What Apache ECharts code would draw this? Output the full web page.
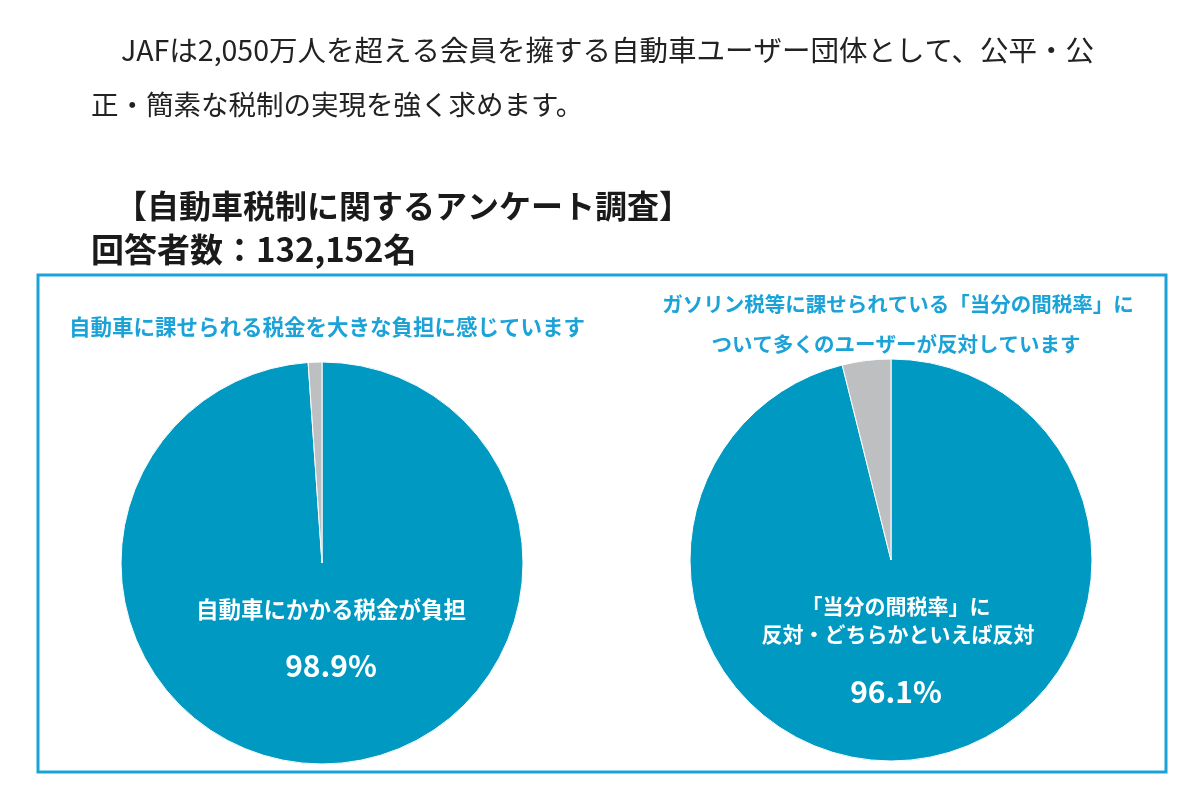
<!DOCTYPE html>
<html>
<head>
<meta charset="utf-8">
<script src="https://cdn.jsdelivr.net/npm/echarts@6/dist/echarts.min.js"></script>
<style>
html, body { margin: 0; padding: 0; background: #fff; }
#chart { width: 1200px; height: 800px; }
</style>
</head>
<body>
<div id="chart"></div>
<script>
const leftNames = ['自動車にかかる税金が負担', 'その他']
const leftValues = [98.9, 1.1]
const rightNames = ['「当分の間税率」に反対・どちらかといえば反対', 'その他']
const rightValues = [96.1, 3.9]
const sliceColors = ['#0099c2', '#bdbfc1']

const font = '"Noto Sans CJK JP", "Noto Sans", sans-serif'
const blue = '#1ba3d8'

const myChart = echarts.init(document.getElementById('chart'))

const pieSeries = (names, values, center) => ({
  type: 'pie',
  radius: 201,
  center: center,
  startAngle: 90,
  clockwise: true,
  silent: true,
  label: { show: false },
  labelLine: { show: false },
  itemStyle: { borderColor: '#fff', borderWidth: 1 },
  data: values.map((v, i) => ({
    name: names[i],
    value: v,
    itemStyle: { color: sliceColors[i] }
  }))
})

const option = {
  backgroundColor: '#fff',
  textStyle: { fontFamily: font },
  title: [
    // 上部の本文
    { text: 'JAFは2,050万人を超える会員を擁する自動車ユーザー団体として、公平・公', left: 116, top: 31,
      textStyle: { fontSize: 28.5, fontWeight: 'normal', color: '#222', fontFamily: font } },
    { text: '正・簡素な税制の実現を強く求めます。', left: 86, top: 86,
      textStyle: { fontSize: 27.5, fontWeight: 'normal', color: '#222', fontFamily: font } },
    { text: '【自動車税制に関するアンケート調査】', left: 110, top: 185,
      textStyle: { fontSize: 32, fontWeight: 'bold', color: '#1a1a1a', fontFamily: font } },
    { text: '回答者数：132,152名', left: 86, top: 228,
      textStyle: { fontSize: 33, fontWeight: 'bold', color: '#1a1a1a', fontFamily: font } },
    // 青い見出し
    { text: '自動車に課せられる税金を大きな負担に感じています', left: 322, top: 311, textAlign: 'center',
      textStyle: { fontSize: 21.5, fontWeight: 'bold', color: blue, fontFamily: font } },
    { text: 'ガソリン税等に課せられている「当分の間税率」に', left: 893, top: 289, textAlign: 'center',
      textStyle: { fontSize: 20.5, fontWeight: 'bold', color: blue, fontFamily: font } },
    { text: 'ついて多くのユーザーが反対しています', left: 891, top: 329, textAlign: 'center',
      textStyle: { fontSize: 20.5, fontWeight: 'bold', color: blue, fontFamily: font } },
    // 円グラフ内のラベル
    { text: leftNames[0], left: 326, top: 593, textAlign: 'center',
      textStyle: { fontSize: 22.5, fontWeight: 'bold', color: '#fff', fontFamily: font } },
    { text: '98.9%', left: 326, top: 646, textAlign: 'center',
      textStyle: { fontSize: 30, fontWeight: 'bold', color: '#fff', fontFamily: font } },
    { text: '「当分の間税率」に', left: 891, top: 591, textAlign: 'center',
      textStyle: { fontSize: 21, fontWeight: 'bold', color: '#fff', fontFamily: font } },
    { text: '反対・どちらかといえば反対', left: 893, top: 619, textAlign: 'center',
      textStyle: { fontSize: 21, fontWeight: 'bold', color: '#fff', fontFamily: font } },
    { text: '96.1%', left: 891, top: 672, textAlign: 'center',
      textStyle: { fontSize: 30, fontWeight: 'bold', color: '#fff', fontFamily: font } }
  ],
  graphic: [
    {
      type: 'rect',
      z: -1,
      shape: { x: 38, y: 275, width: 1128, height: 497 },
      style: { fill: 'none', stroke: blue, lineWidth: 3 }
    }
  ],
  series: [
    pieSeries(leftNames, leftValues, [322, 563]),
    pieSeries(rightNames, rightValues, [891, 560])
  ]
}

myChart.setOption(option)
</script>
</body>
</html>
